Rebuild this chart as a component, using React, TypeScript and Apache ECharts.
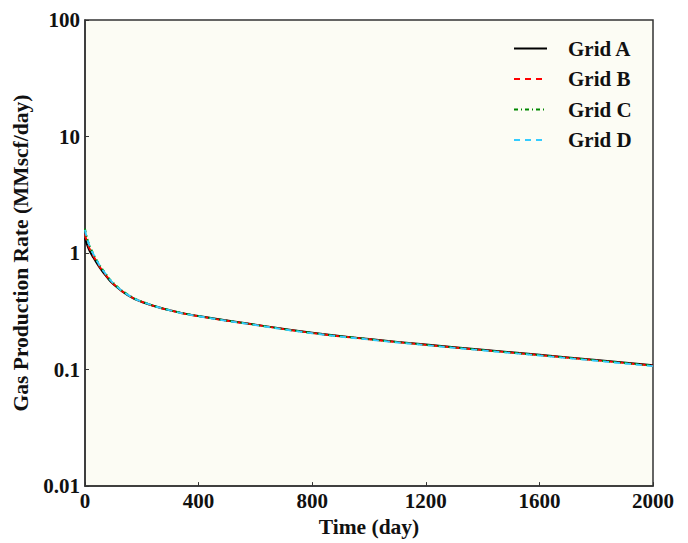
import React, { useEffect, useRef } from "react";
import * as echarts from "echarts";

const days = [0, 5, 10, 20, 30, 50, 75, 100, 150, 200, 300, 400, 600, 800, 1000, 1200, 1400, 1600, 1800, 2000];
const gridA = [1.34, 1.22, 1.13, 1.0, 0.91, 0.76, 0.63, 0.54, 0.435, 0.38, 0.322, 0.288, 0.243, 0.207, 0.183, 0.164, 0.148, 0.134, 0.121, 0.109];
const gridB = [1.45, 1.3, 1.19, 1.04, 0.94, 0.775, 0.64, 0.545, 0.438, 0.382, 0.322, 0.287, 0.242, 0.206, 0.182, 0.163, 0.147, 0.133, 0.12, 0.108];
const gridC = [1.62, 1.42, 1.28, 1.1, 0.98, 0.8, 0.655, 0.553, 0.442, 0.384, 0.323, 0.288, 0.242, 0.206, 0.182, 0.163, 0.147, 0.133, 0.12, 0.108];
const gridD = [1.58, 1.4, 1.27, 1.09, 0.975, 0.795, 0.652, 0.55, 0.44, 0.383, 0.322, 0.287, 0.241, 0.205, 0.181, 0.162, 0.146, 0.132, 0.119, 0.107];
const seriesNames = ["Grid A", "Grid B", "Grid C", "Grid D"];
const xTicks = [0, 400, 800, 1200, 1600, 2000];
const yTicks = [0.01, 0.1, 1, 10, 100];

const FONT = "'Liberation Serif', 'Times New Roman', serif";

export default function App() {
  const ref = useRef<HTMLDivElement>(null);
  useEffect(() => {
    if (!ref.current) return;
    const chart = echarts.init(ref.current, undefined, { renderer: "svg" });
    const values = [gridA, gridB, gridC, gridD];
    const styles = [
      { color: "#000000", type: "solid" as any },
      { color: "#ff0000", type: [6, 5] as any },
      { color: "#008800", type: [4, 3, 1, 3] as any },
      { color: "#33ccff", type: [6, 5] as any },
    ];
    chart.setOption({
      animation: false,
      backgroundColor: "#ffffff",
      grid: {
        left: 85,
        top: 20,
        right: 35,
        bottom: 53,
        show: true,
        backgroundColor: "#fcfcf4",
        borderColor: "#333333",
        borderWidth: 1.5,
      },
      legend: {
        left: 513,
        top: 38,
        padding: 0,
        orient: "vertical",
        itemWidth: 33,
        itemHeight: 14,
        itemGap: 9.5,
        data: seriesNames,
        itemStyle: { opacity: 0 },
        textStyle: {
          fontFamily: FONT,
          fontWeight: "bold",
          fontSize: 21,
          lineHeight: 21,
          color: "#111",
          padding: [0, 0, 0, 16],
        },
      },
      xAxis: {
        type: "value",
        min: 0,
        max: 2000,
        interval: 400,
        name: "Time (day)",
        nameLocation: "middle",
        nameGap: 25,
        nameTextStyle: { fontFamily: FONT, fontWeight: "bold", fontSize: 21.5, color: "#111" },
        axisLine: { show: true, lineStyle: { color: "#333", width: 1.5 } },
        axisTick: { show: true, inside: true, length: 4, lineStyle: { color: "#333" } },
        axisLabel: {
          fontFamily: FONT,
          fontWeight: "bold",
          fontSize: 21,
          color: "#111",
          margin: 4,
          formatter: (v: number) => (xTicks.includes(v) ? String(v) : ""),
        },
        splitLine: { show: false },
      },
      yAxis: {
        type: "log",
        logBase: 10,
        min: 0.01,
        max: 100,
        name: "Gas Production Rate (MMscf/day)",
        nameLocation: "middle",
        nameGap: 48,
        nameTextStyle: { fontFamily: FONT, fontWeight: "bold", fontSize: 21.5, color: "#111" },
        axisLine: { show: true, lineStyle: { color: "#333", width: 1.5 } },
        axisTick: { show: true, inside: true, length: 4, lineStyle: { color: "#333" } },
        minorTick: { show: false },
        axisLabel: {
          fontFamily: FONT,
          fontWeight: "bold",
          fontSize: 21,
          color: "#111",
          margin: 5,
          formatter: (v: number) => {
            const m = yTicks.find((t) => Math.abs(t - v) / t < 1e-6);
            return m !== undefined ? String(m) : "";
          },
        },
        splitLine: { show: false },
      },
      series: seriesNames.map((name, i) => ({
        name,
        type: "line",
        smooth: true,
        symbol: "none",
        data: days.map((d, j) => [d, values[i][j]]),
        lineStyle: { width: 1.9, color: styles[i].color, type: styles[i].type },
        itemStyle: { color: styles[i].color },
      })),
    });
    return () => chart.dispose();
  }, []);
  return <div ref={ref} style={{ position: "absolute", left: 0, top: 0, width: 688, height: 543 }} />;
}
